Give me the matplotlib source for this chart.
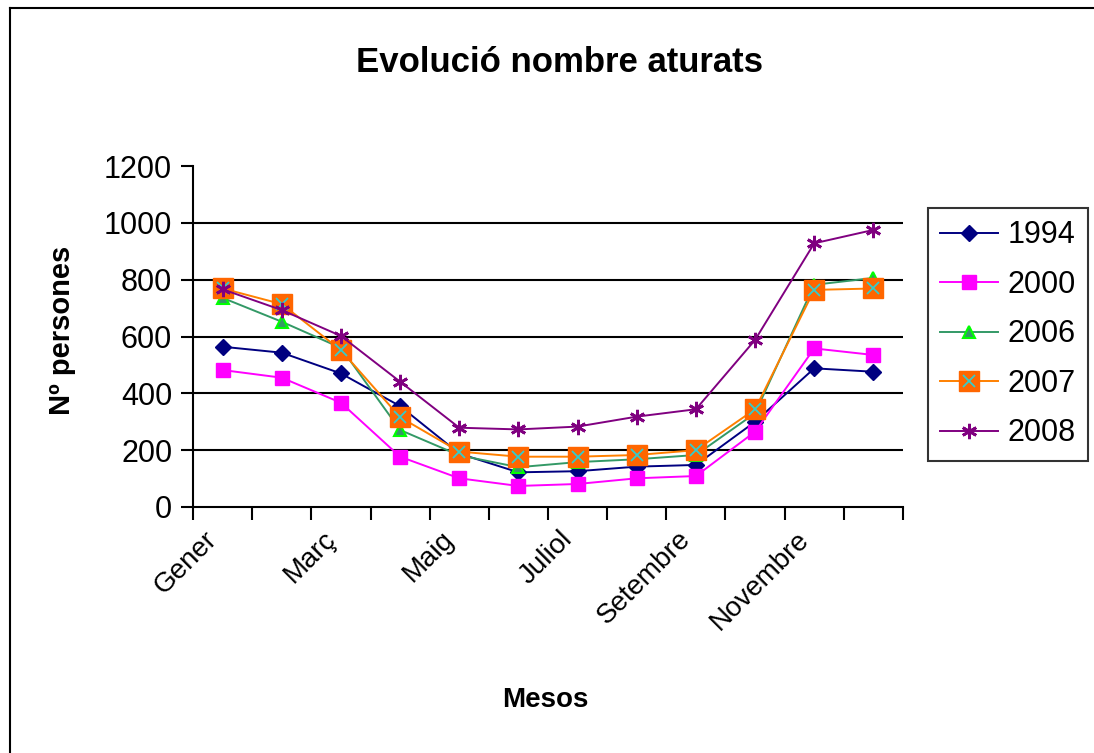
import matplotlib
matplotlib.use("Agg")
import matplotlib.pyplot as plt
from matplotlib.lines import Line2D
from matplotlib.legend_handler import HandlerTuple

plt.rcParams['font.family'] = ['Liberation Sans', 'DejaVu Sans']

months = list(range(1, 13))
tick_labels = ["Gener", "Març", "Maig", "Juliol", "Setembre", "Novembre"]
years = ["1994", "2000", "2006", "2007", "2008"]
v1994 = [564, 543, 470, 355, 188, 122, 126, 142, 148, 300, 488, 476]
v2000 = [482, 455, 367, 177, 101, 74, 81, 101, 109, 265, 558, 535]
v2006 = [736, 652, 560, 271, 182, 140, 158, 168, 183, 330, 782, 806]
v2007 = [769, 714, 552, 316, 195, 177, 177, 183, 200, 344, 764, 769]
v2008 = [766, 693, 602, 441, 279, 273, 283, 318, 344, 588, 928, 975]
yticks = [0, 200, 400, 600, 800, 1000, 1200]

W, H = 1094, 753
fig = plt.figure(figsize=(W / 100, H / 100), dpi=100)
ax = fig.add_axes([193 / W, 1 - 507 / H, (903 - 193) / W, (507 - 166) / H])

# outer border (left + top visible)
fig.add_artist(Line2D([10 / W, 10 / W], [0, 1 - 8 / H], transform=fig.transFigure, color='black', lw=1.5))
fig.add_artist(Line2D([10 / W, 1], [1 - 8 / H, 1 - 8 / H], transform=fig.transFigure, color='black', lw=1.5))

for v in yticks[1:-1]:
    ax.axhline(v, color='black', lw=1.5, zorder=1)

lw = 1.4
h1, = ax.plot(months, v1994, color='#000080', lw=lw, marker='D', ms=8, mfc='#000080', mec='#000080', zorder=3)
h2, = ax.plot(months, v2000, color='#FF00FF', lw=lw, marker='s', ms=10, mfc='#FF00FF', mec='#FF00FF', zorder=3)
h3, = ax.plot(months, v2006, color='#339966', lw=lw, marker='^', ms=9, mfc='#339966', mec='#00FF00', mew=1.5, zorder=3)
h4a, = ax.plot(months, v2007, color='#FF8000', lw=lw, marker='s', ms=15, mfc='#FF6600', mec='#FF6600', zorder=4)
h4b, = ax.plot(months, v2007, color='none', lw=0, marker='x', ms=9, mec='#33CCCC', mew=1.3, zorder=5)
h5, = ax.plot(months, v2008, color='#800080', lw=lw, marker=(6, 2, 0), ms=11, mec='#800080', mew=2, zorder=6)

ax.set_xlim(0.5, 12.5)
ax.set_ylim(0, 1200)
ax.set_yticks(yticks)
ax.set_yticklabels([str(v) for v in yticks], fontsize=22)
ax.set_xticks([i + 0.5 for i in range(0, 13)])
ax.set_xticklabels([])
ax.set_xticks(months[::2], minor=True)
ax.set_xticklabels(tick_labels, minor=True, rotation=45, ha='right', va='top', fontsize=20)
ax.tick_params(axis='x', which='minor', length=0, pad=14)
ax.tick_params(axis='both', which='major', length=9, width=1.5, direction='out', color='black')
ax.tick_params(axis='y', pad=6)
for s in ['top', 'right']:
    ax.spines[s].set_visible(False)
for s in ['left', 'bottom']:
    ax.spines[s].set_linewidth(1.5)
    ax.spines[s].set_color('black')

fig.text(560 / W, 1 - 62 / H, "Evolució nombre aturats", ha='center', va='center', fontsize=25, fontweight='bold')
fig.text(62 / W, 1 - 330 / H, "Nº persones", ha='center', va='center', rotation=90, fontsize=21, fontweight='bold')
fig.text(545 / W, 1 - 700 / H, "Mesos", ha='center', va='center', fontsize=20, fontweight='bold')

leg = fig.legend([h1, h2, h3, (h4a, h4b), h5], years,
                 handler_map={tuple: HandlerTuple(ndivide=1)},
                 loc='upper left', bbox_to_anchor=(928 / W, 1 - 208 / H),
                 fontsize=22, frameon=True, fancybox=False, handlelength=1.9,
                 labelspacing=0.64, borderpad=0.4, handletextpad=0.3, borderaxespad=0)
leg.get_frame().set_edgecolor('black')
leg.get_frame().set_linewidth(1.5)

fig.savefig("out.png", dpi=100)
